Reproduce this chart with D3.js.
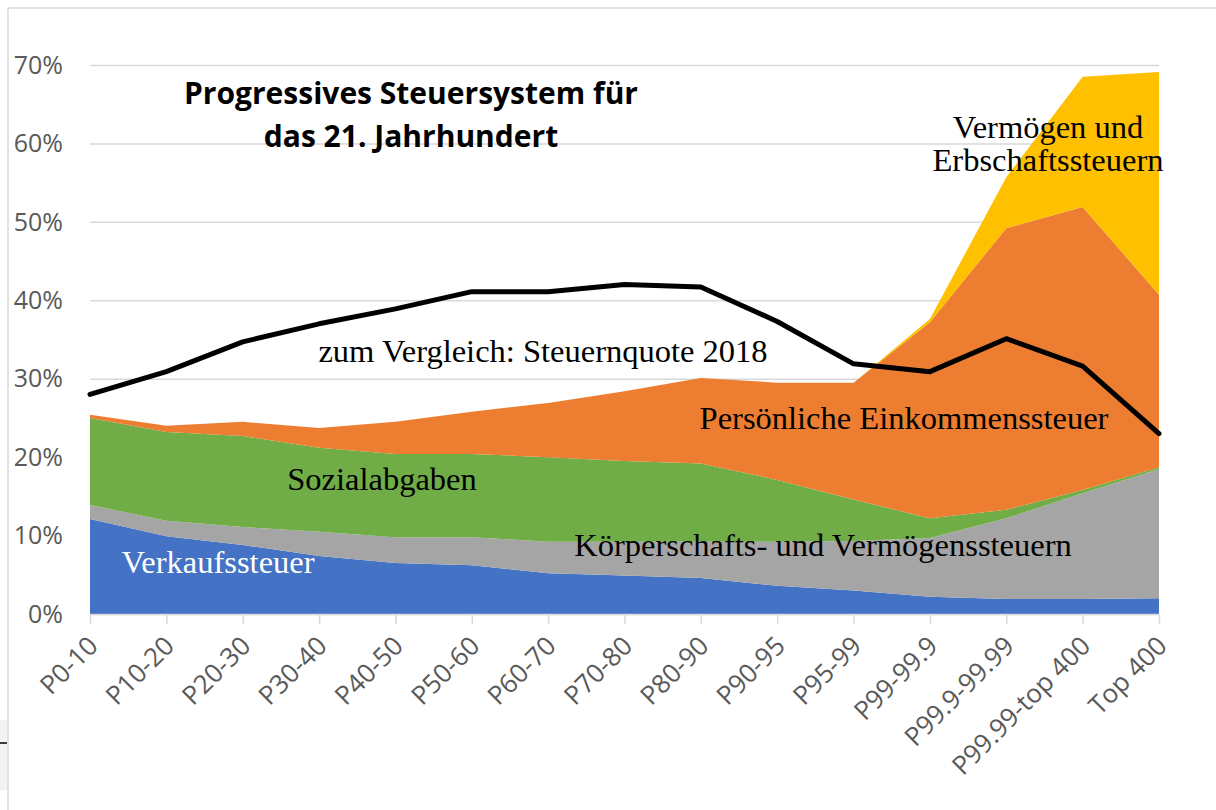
<!DOCTYPE html>
<html>
<head>
<meta charset="utf-8">
<script src="https://cdn.jsdelivr.net/npm/d3@7"></script>
<style>
  body { margin: 0; background: #fff; }
  .tick-label { font-family: "Open Sans", Lato, sans-serif; fill: #595959; }
  .area-label { font-family: "Liberation Serif", "DejaVu Serif", serif; font-size: 32.5px; }
</style>
</head>
<body>
<div id="chart"></div>
<script>
// categories (percentile groups)
const categories = ["P0-10", "P10-20", "P20-30", "P30-40", "P40-50", "P50-60", "P60-70",
  "P70-80", "P80-90", "P90-95", "P95-99", "P99-99.9", "P99.9-99.99", "P99.99-top 400", "Top 400"];

// stacked tax components, % of income
const salesTax = [12.1, 9.9, 8.8, 7.4, 6.5, 6.2, 5.2, 4.9, 4.6, 3.6, 3.0, 2.2, 1.9, 1.9, 2.0];
const corporateTax = [1.8, 2.0, 2.3, 3.1, 3.3, 3.6, 4.0, 4.3, 4.6, 5.6, 6.3, 7.5, 10.3, 13.5, 16.5];
const socialTax = [11.1, 11.3, 11.6, 10.7, 10.6, 10.6, 10.8, 10.3, 10.0, 7.9, 5.3, 2.5, 1.1, 0.4, 0.2];
const incomeTax = [0.4, 0.8, 1.8, 2.5, 4.1, 5.4, 6.9, 8.9, 10.9, 12.4, 14.9, 25.0, 35.9, 36.1, 22.0];
const wealthTax = [0, 0, 0, 0, 0, 0, 0, 0, 0, 0, 0, 0.4, 6.5, 16.6, 28.4];

// comparison line: tax rate 2018
const taxRate2018 = [28.0, 30.9, 34.7, 37.0, 38.9, 41.1, 41.1, 42.0, 41.7, 37.3, 31.9, 30.9, 35.1, 31.6, 23.0];

const yTicks = [0, 10, 20, 30, 40, 50, 60, 70];

const keys = ["sales", "corporate", "social", "income", "wealth"];
const colors = {
  sales: "#4472C4",
  corporate: "#A5A5A5",
  social: "#70AD47",
  income: "#ED7D31",
  wealth: "#FFC000",
};

const rows = categories.map(function (c, i) {
  return {
    cat: c,
    sales: salesTax[i],
    corporate: corporateTax[i],
    social: socialTax[i],
    income: incomeTax[i],
    wealth: wealthTax[i],
    rate: taxRate2018[i],
  };
});

const width = 1216, height = 810;
const margin = { top: 65, right: 57, bottom: 196, left: 90 };
const innerW = width - margin.left - margin.right;
const innerH = height - margin.top - margin.bottom;

const svg = d3.select("#chart").append("svg")
  .attr("width", width)
  .attr("height", height);

// frame of the chart object
svg.append("line")
  .attr("x1", 8).attr("x2", width).attr("y1", 8).attr("y2", 8)
  .attr("stroke", "#d9d9d9").attr("stroke-width", 1.5);
svg.append("line")
  .attr("x1", 8).attr("x2", 8).attr("y1", 8).attr("y2", height)
  .attr("stroke", "#d9d9d9").attr("stroke-width", 1.5);

// little leftover of the page underneath (bottom left)
svg.append("rect")
  .attr("x", 0).attr("y", 720).attr("width", 7).attr("height", 70)
  .attr("fill", "#f2f2f2");
svg.append("line")
  .attr("x1", 0).attr("x2", 7).attr("y1", 743).attr("y2", 743)
  .attr("stroke", "#000").attr("stroke-width", 1.5);

const g = svg.append("g")
  .attr("transform", `translate(${margin.left}, ${margin.top})`);

const x = d3.scalePoint().domain(categories).range([0, innerW]);
const y = d3.scaleLinear().domain([0, 70]).range([innerH, 0]);

// gridlines
g.append("g")
  .attr("class", "grid")
  .call(d3.axisLeft(y).tickValues(yTicks).tickSize(-innerW).tickFormat(""))
  .call(function (s) {
    s.select(".domain").remove();
    s.selectAll("line").attr("stroke", "#d9d9d9").attr("stroke-width", 1.5);
  });

// y tick labels
g.selectAll(".ylab")
  .data(yTicks)
  .enter()
  .append("text")
  .attr("class", "tick-label")
  .style("font-size", "25px")
  .attr("x", -27)
  .attr("y", function (d) { return y(d); })
  .attr("dy", "0.35em")
  .attr("text-anchor", "end")
  .text(function (d) { return d + "%"; });

// stacked areas
const stack = d3.stack().keys(keys);
const series = stack(rows);

const area = d3.area()
  .x(function (d) { return x(d.data.cat); })
  .y0(function (d) { return y(d[0]); })
  .y1(function (d) { return y(d[1]); });

g.selectAll(".layer")
  .data(series)
  .enter()
  .append("path")
  .attr("class", "layer")
  .attr("d", area)
  .attr("fill", function (d) { return colors[d.key]; });

// x axis
g.append("g")
  .attr("transform", `translate(0, ${innerH})`)
  .call(d3.axisBottom(x).tickSizeInner(10).tickSizeOuter(0).tickFormat(""))
  .call(function (s) {
    s.select(".domain").attr("stroke", "#d9d9d9").attr("stroke-width", 1.5);
    s.selectAll("line").attr("stroke", "#d9d9d9").attr("stroke-width", 1.5);
  });

g.selectAll(".xlab")
  .data(categories)
  .enter()
  .append("text")
  .attr("class", "tick-label")
  .style("font-size", "26px")
  .attr("transform", function (d) {
    return `translate(${x(d) + 3}, ${innerH + 27}) rotate(-45)`;
  })
  .attr("text-anchor", "end")
  .attr("dy", "0.35em")
  .text(function (d) { return d; });

// comparison line
const line = d3.line()
  .x(function (d) { return x(d.cat); })
  .y(function (d) { return y(d.rate); });

g.append("path")
  .datum(rows)
  .attr("d", line)
  .attr("fill", "none")
  .attr("stroke", "#000")
  .attr("stroke-width", 5)
  .attr("stroke-linejoin", "round")
  .attr("stroke-linecap", "round");

// title
const title = svg.append("text")
  .attr("text-anchor", "middle")
  .style("font-family", "'Open Sans', Lato, sans-serif")
  .style("font-weight", "bold")
  .style("font-size", "30px")
  .attr("fill", "#000");
title.append("tspan").attr("x", 411).attr("y", 104).text("Progressives Steuersystem für");
title.append("tspan").attr("x", 411).attr("y", 147).text("das 21. Jahrhundert");

// labels in the chart
const labels = [
  { text: "Verkaufssteuer", cx: 218, y: 573, color: "#fff" },
  { text: "Sozialabgaben", cx: 382, y: 490, color: "#000" },
  { text: "zum Vergleich: Steuernquote 2018", cx: 543, y: 362, color: "#000" },
  { text: "Persönliche Einkommenssteuer", cx: 904, y: 429, color: "#000" },
  { text: "Körperschafts- und Vermögenssteuern", cx: 823, y: 556, color: "#000" },
  { text: "Vermögen und", cx: 1048, y: 138, color: "#000" },
  { text: "Erbschaftssteuern", cx: 1048, y: 171, color: "#000" },
];

svg.selectAll(".area-label")
  .data(labels)
  .enter()
  .append("text")
  .attr("class", "area-label")
  .attr("x", function (d) { return d.cx; })
  .attr("y", function (d) { return d.y; })
  .attr("text-anchor", "middle")
  .attr("fill", function (d) { return d.color; })
  .text(function (d) { return d.text; });
</script>
</body>
</html>
